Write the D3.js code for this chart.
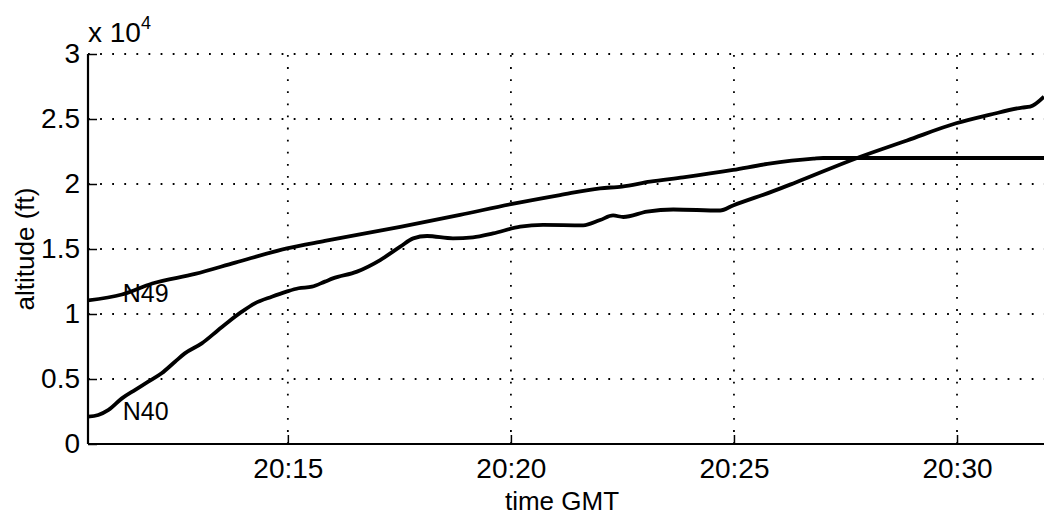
<!DOCTYPE html>
<html>
<head>
<meta charset="utf-8">
<script src="https://cdn.jsdelivr.net/npm/d3@7"></script>
<style>
  html, body { margin: 0; padding: 0; background: #fff; }
  svg { display: block; }
  text { font-family: "Liberation Sans", Arial, Helvetica, sans-serif; fill: #000; }
</style>
</head>
<body>
<svg id="chart" width="1044" height="516"></svg>
<script>
// time in minutes after 20:00 GMT, altitude in ft
const n49Time = [10.52, 11.28, 11.96, 12.92, 13.82, 14.98, 15.83, 17.52, 18.86, 20.00, 21.10, 22.00, 22.49, 23.12, 23.86, 24.98, 25.75, 26.78, 27.00, 31.95];
const n49Alt  = [11050, 11500, 12350, 13080, 13950, 15050, 15620, 16700, 17620, 18450, 19150, 19670, 19800, 20180, 20510, 21080, 21540, 21950, 22000, 22000];

const n40Time = [10.52, 10.75, 10.98, 11.28, 11.57, 11.87, 12.17, 12.47, 12.69, 13.07, 13.44, 13.67, 13.97, 14.26, 14.64, 14.97, 15.24, 15.54, 15.83, 16.01, 16.55, 17.07, 17.52, 17.81, 18.12, 18.70, 19.15, 19.60, 20.21, 20.72, 21.62, 22.00, 22.29, 22.52, 23.05, 23.64, 24.69, 24.98, 25.88, 26.37, 27.76, 28.88, 29.98, 30.72, 31.46, 31.64, 31.95];
const n40Alt  = [2100, 2230, 2620, 3510, 4150, 4790, 5440, 6330, 6970, 7740, 8770, 9410, 10180, 10820, 11330, 11720, 11980, 12100, 12490, 12740, 13260, 14150, 15180, 15820, 16000, 15820, 15900, 16200, 16720, 16850, 16820, 17230, 17580, 17460, 17870, 18040, 17960, 18350, 19450, 20100, 22000, 23350, 24670, 25310, 25880, 25950, 26720];

const xTicks = [15, 20, 25, 30];
const xTickLabels = ["20:15", "20:20", "20:25", "20:30"];
const yTicks = [0, 5000, 10000, 15000, 20000, 25000, 30000];
const yTickLabels = ["0", "0.5", "1", "1.5", "2", "2.5", "3"];
const seriesNames = ["N49", "N40"];

const pLeft = 88, pRight = 1044, pTop = 54, pBottom = 444;
const svg = d3.select("#chart");

const x = d3.scaleLinear().domain([10.52, 31.95]).range([pLeft, pRight]);
const y = d3.scaleLinear().domain([0, 30000]).range([pBottom, pTop]);

svg.append("defs").append("clipPath").attr("id", "clip")
  .append("rect").attr("x", pLeft).attr("y", pTop - 5).attr("width", pRight - pLeft).attr("height", pBottom - pTop + 5);

// grid
const grid = svg.append("g").attr("stroke", "#000").attr("stroke-width", 1.8)
  .attr("stroke-dasharray", "1.8 10.3").attr("fill", "none");
grid.selectAll(".hg").data(yTicks).join("line")
  .attr("x1", pLeft).attr("x2", pRight)
  .attr("y1", d => y(d)).attr("y2", d => y(d));
grid.selectAll(".vg").data(xTicks).join("line")
  .attr("x1", d => x(d)).attr("x2", d => x(d))
  .attr("y1", pBottom).attr("y2", pTop);

// axes
const xAxis = d3.axisBottom(x).tickValues(xTicks).tickSize(-9).tickPadding(14)
  .tickFormat((d, i) => xTickLabels[i]);
const gx = svg.append("g").attr("transform", `translate(0,${pBottom})`).call(xAxis);
gx.select(".domain").attr("d", `M${pLeft},0H${pRight}`).attr("stroke-width", 2.2);
gx.selectAll(".tick line").attr("stroke-width", 1.5);
gx.selectAll(".tick text").attr("font-size", 28).attr("font-family", null);

const yAxis = d3.axisLeft(y).tickValues(yTicks).tickSize(-9).tickPadding(8)
  .tickFormat((d, i) => yTickLabels[i]);
const gy = svg.append("g").attr("transform", `translate(${pLeft},0)`).call(yAxis);
gy.select(".domain").attr("d", `M0,${pBottom}V${pTop}`).attr("stroke-width", 2.2);
gy.selectAll(".tick line").attr("stroke-width", 1.5);
gy.selectAll(".tick text").attr("font-size", 28).attr("font-family", null);

// lines
const line = d3.line().x(d => x(d[0])).y(d => y(d[1])).curve(d3.curveMonotoneX);
const series = [
  d3.zip(n49Time, n49Alt),
  d3.zip(n40Time, n40Alt)
];
svg.append("g").attr("clip-path", "url(#clip)")
  .selectAll("path").data(series).join("path")
  .attr("d", line)
  .attr("fill", "none").attr("stroke", "#000").attr("stroke-width", 3.8)
  .attr("stroke-linejoin", "round");

// series labels
svg.append("text").attr("x", x(11.3)).attr("y", y(10900)).attr("font-size", 25).text(seriesNames[0]);
svg.append("text").attr("x", x(11.3)).attr("y", y(1850)).attr("font-size", 25).text(seriesNames[1]);

// axis labels
svg.append("text").attr("x", (pLeft + pRight) / 2 - 4).attr("y", 510)
  .attr("text-anchor", "middle").attr("font-size", 26).text("time GMT");
svg.append("text").attr("transform", `translate(34,${(pTop + pBottom) / 2}) rotate(-90)`)
  .attr("text-anchor", "middle").attr("font-size", 26).text("altitude (ft)");

// exponent
const ex = svg.append("text").attr("x", 88).attr("y", 42).attr("font-size", 28);
ex.append("tspan").text("x 10");
ex.append("tspan").attr("dy", -13).attr("font-size", 18).text("4");
</script>
</body>
</html>
